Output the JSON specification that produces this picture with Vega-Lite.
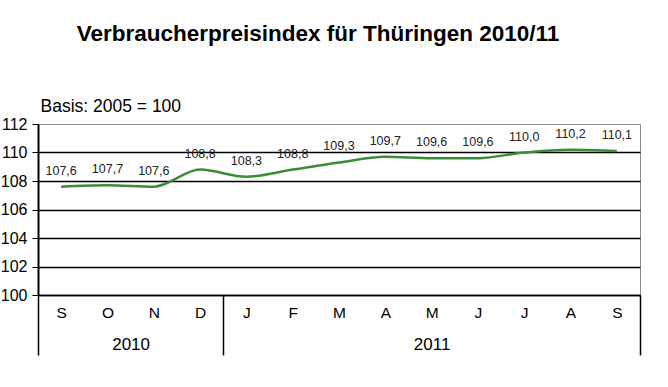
{
  "$schema": "https://vega.github.io/schema/vega-lite/v6.json",
  "autosize": {"type": "none"},
  "width": 602,
  "height": 171,
  "padding": {"left": 38, "top": 124, "right": 28, "bottom": 92},
  "background": "white",
  "title": {
    "text": "Verbraucherpreisindex für Thüringen 2010/11",
    "font": "Liberation Sans",
    "fontSize": 22.5,
    "fontWeight": "bold",
    "color": "black",
    "anchor": "middle",
    "dx": -21,
    "offset": 52
  },
  "config": {
    "locale": {"number": {"decimal": ",", "thousands": ".", "grouping": [3], "currency": ["", " €"]}},
    "view": {"stroke": "#8c8c8c", "strokeWidth": 1},
    "font": "Liberation Sans"
  },
  "data": {
    "values": [
      {"i": 0, "monat": "Sep 2010", "wert": 107.6},
      {"i": 1, "monat": "Okt 2010", "wert": 107.7},
      {"i": 2, "monat": "Nov 2010", "wert": 107.6},
      {"i": 3, "monat": "Dez 2010", "wert": 108.8},
      {"i": 4, "monat": "Jan 2011", "wert": 108.3},
      {"i": 5, "monat": "Feb 2011", "wert": 108.8},
      {"i": 6, "monat": "Mär 2011", "wert": 109.3},
      {"i": 7, "monat": "Apr 2011", "wert": 109.7},
      {"i": 8, "monat": "Mai 2011", "wert": 109.6},
      {"i": 9, "monat": "Jun 2011", "wert": 109.6},
      {"i": 10, "monat": "Jul 2011", "wert": 110.0},
      {"i": 11, "monat": "Aug 2011", "wert": 110.2},
      {"i": 12, "monat": "Sep 2011", "wert": 110.1}
    ]
  },
  "encoding": {
    "x": {
      "field": "i",
      "type": "quantitative",
      "scale": {"domain": [-0.5, 12.5], "nice": false, "zero": false},
      "axis": {
        "title": null,
        "values": [-0.5, 0, 1, 1.5, 2, 3, 3.5, 4, 5, 6, 7, 8, 8.0001, 9, 10, 11, 12, 12.5],
        "labelExpr": "datum.value == 1.5 ? [' ', '2010'] : datum.value == 8.0001 ? [' ', '2011'] : (datum.value % 1 != 0 ? '' : ['S','O','N','D','J','F','M','A','M','J','J','A','S'][datum.value])",
        "labelOverlap": false,
        "labelFontSize": {"condition": {"test": "datum.value == 1.5 || datum.value == 8.0001", "value": 17}, "value": 15.5},
        "labelColor": "black",
        "labelBaseline": "top",
        "labelLineHeight": 31,
        "labelPadding": -50,
        "tickSize": 60,
        "tickColor": "black",
        "tickWidth": 1.5,
        "tickOpacity": {"condition": {"test": "datum.value == -0.5 || datum.value == 3.5 || datum.value == 12.5", "value": 1}, "value": 0},
        "domainColor": "black",
        "domainWidth": 1.5,
        "grid": false
      }
    },
    "y": {
      "field": "wert",
      "type": "quantitative",
      "scale": {"domain": [100, 112], "nice": false, "zero": false},
      "axis": {
        "title": "Basis:  2005 = 100",
        "titleAngle": 0,
        "titleAlign": "left",
        "titleBaseline": "alphabetic",
        "titleX": 2,
        "titleY": -13,
        "titleFontSize": 17.5,
        "titleFontWeight": "normal",
        "titleColor": "black",
        "values": [100, 102, 104, 106, 108, 110, 112],
        "grid": true,
        "gridColor": "black",
        "gridWidth": 1.5,
        "gridOpacity": {"condition": {"test": "datum.value == 112", "value": 0}, "value": 1},
        "labelFontSize": 16,
        "labelColor": "black",
        "labelPadding": 5,
        "tickSize": 6,
        "tickColor": "black",
        "tickWidth": 1,
        "domainColor": "black",
        "domainWidth": 2
      }
    }
  },
  "layer": [
    {
      "mark": {"type": "line", "interpolate": "monotone", "color": "#3b8c36", "strokeWidth": 2.5}
    },
    {
      "mark": {"type": "text", "fontSize": 12.5, "color": "#222222", "dy": -16, "baseline": "middle"},
      "encoding": {
        "text": {"field": "wert", "type": "quantitative", "format": ".1f"}
      }
    }
  ]
}
